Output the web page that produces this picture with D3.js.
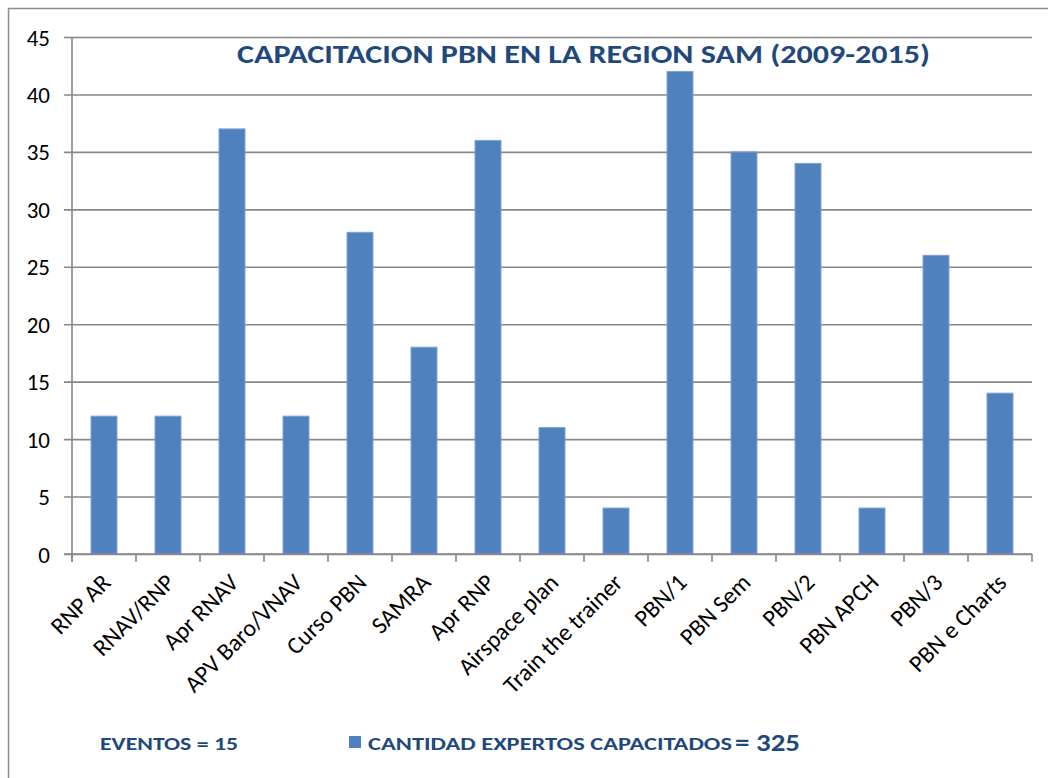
<!DOCTYPE html>
<html>
<head>
<meta charset="utf-8">
<script src="https://cdn.jsdelivr.net/npm/d3@7"></script>
<style>
  body { margin: 0; background: #fff; }
  text { font-family: Carlito, "Open Sans", "Noto Sans", sans-serif; }
</style>
</head>
<body>
<div id="chart"></div>
<script>
// Chart data
var categories = ["RNP AR", "RNAV/RNP", "Apr RNAV", "APV Baro/VNAV", "Curso PBN", "SAMRA",
  "Apr RNP", "Airspace plan", "Train the trainer", "PBN/1", "PBN Sem", "PBN/2",
  "PBN APCH", "PBN/3", "PBN e Charts"];
var expertos = [12, 12, 37, 12, 28, 18, 36, 11, 4, 42, 35, 34, 4, 26, 14];
var yTicks = [0, 5, 10, 15, 20, 25, 30, 35, 40, 45];

var width = 1048;
var height = 778;

// Plot area
var plotLeft = 72, plotRight = 1032, plotTop = 37, plotBottom = 554;

var svg = d3.select("#chart")
  .append("svg")
  .attr("width", width)
  .attr("height", height);

// Outer frame
svg.append("rect")
  .attr("x", 8.5).attr("y", 8.5)
  .attr("width", width + 10).attr("height", height + 10)
  .attr("fill", "none")
  .attr("stroke", "#8c8c8c")
  .attr("stroke-width", 1.5);

var xScale = d3.scaleBand()
  .domain(categories)
  .range([plotLeft, plotRight])
  .padding(0);

var yScale = d3.scaleLinear()
  .domain([0, 45])
  .range([plotBottom, plotTop]);

// Gridlines and y axis
var yAxis = d3.axisLeft(yScale)
  .tickValues(yTicks)
  .tickSize(-(plotRight - plotLeft) - 8)
  .tickPadding(14)
  .tickFormat(d3.format("d"));

var gy = svg.append("g")
  .attr("transform", "translate(" + (plotLeft - 8) + ",0)")
  .call(yAxis);
gy.select(".domain").remove();
gy.selectAll("line").attr("stroke", "#878787").attr("stroke-width", 1.6);
gy.selectAll("text")
  .attr("font-size", 23)
  .attr("fill", "#000")
  .attr("dy", "0.35em");

// Vertical axis line
svg.append("line")
  .attr("x1", plotLeft).attr("x2", plotLeft)
  .attr("y1", plotTop).attr("y2", plotBottom + 8)
  .attr("stroke", "#878787")
  .attr("stroke-width", 1.6);

// Category ticks
var tickPos = d3.range(categories.length + 1).map(function(i) {
  return plotLeft + i * xScale.step();
});
svg.selectAll(".xtick")
  .data(tickPos)
  .enter()
  .append("line")
  .attr("class", "xtick")
  .attr("x1", function(d) { return d; })
  .attr("x2", function(d) { return d; })
  .attr("y1", plotBottom)
  .attr("y2", plotBottom + 8)
  .attr("stroke", "#878787")
  .attr("stroke-width", 1.6);

// Bars
var barW = 26;
svg.selectAll(".bar")
  .data(expertos)
  .enter()
  .append("rect")
  .attr("class", "bar")
  .attr("x", function(d, i) { return xScale(categories[i]) + xScale.bandwidth() / 2 - barW / 2; })
  .attr("y", function(d) { return yScale(d); })
  .attr("width", barW)
  .attr("height", function(d) { return plotBottom - yScale(d); })
  .attr("fill", "#4F81BD")
  .attr("stroke", "#7DA3D3")
  .attr("stroke-width", 1);

// Redraw baseline on top of bars
svg.append("line")
  .attr("x1", plotLeft - 8).attr("x2", plotRight)
  .attr("y1", plotBottom).attr("y2", plotBottom)
  .attr("stroke", "#878787")
  .attr("stroke-width", 1.6);

// Rotated category labels
svg.selectAll(".xlabel")
  .data(categories)
  .enter()
  .append("text")
  .attr("class", "xlabel")
  .attr("transform", function(d) {
    var cx = xScale(d) + xScale.bandwidth() / 2 + 8;
    return "translate(" + cx + "," + (plotBottom + 30) + ") rotate(-45)";
  })
  .attr("text-anchor", "end")
  .attr("font-size", 24)
  .attr("fill", "#000")
  .text(function(d) { return d; });

// Title
svg.append("text")
  .attr("x", 237)
  .attr("y", 63)
  .attr("font-size", 27)
  .attr("font-weight", "bold")
  .attr("fill", "#1F497D")
  .attr("textLength", 693)
  .attr("lengthAdjust", "spacingAndGlyphs")
  .text("CAPACITACION PBN EN LA REGION SAM (2009-2015)");

// Bottom legend
svg.append("text")
  .attr("x", 100)
  .attr("y", 750)
  .attr("font-size", 18)
  .attr("font-weight", "bold")
  .attr("fill", "#1F497D")
  .attr("textLength", 138)
  .attr("lengthAdjust", "spacingAndGlyphs")
  .text("EVENTOS = 15");

svg.append("rect")
  .attr("x", 349).attr("y", 736)
  .attr("width", 12).attr("height", 12)
  .attr("fill", "#4F81BD");

svg.append("text")
  .attr("x", 368)
  .attr("y", 750)
  .attr("font-size", 18)
  .attr("font-weight", "bold")
  .attr("fill", "#1F497D")
  .attr("textLength", 364)
  .attr("lengthAdjust", "spacingAndGlyphs")
  .text("CANTIDAD EXPERTOS CAPACITADOS");

svg.append("text")
  .attr("x", 735)
  .attr("y", 751)
  .attr("font-size", 24)
  .attr("font-weight", "bold")
  .attr("fill", "#1F497D")
  .attr("textLength", 65)
  .attr("lengthAdjust", "spacingAndGlyphs")
  .text("= 325");
</script>
</body>
</html>
